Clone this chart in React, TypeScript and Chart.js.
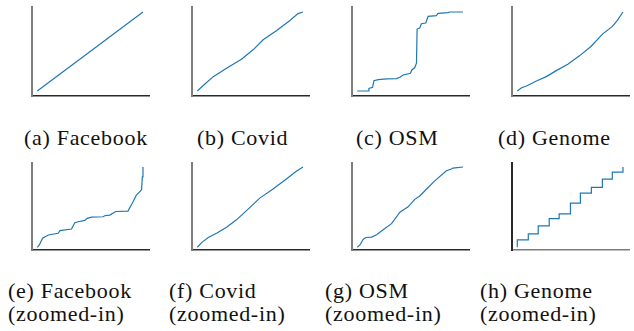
import React, { useEffect, useRef } from "react";
import { Chart, registerables } from "chart.js";

Chart.register(...registerables);

// ---- Data (normalized position vs. key) ----
const facebookX = [0, 0.5, 1];
const facebookY = [0, 0.5, 1];

const covidX = [0, 0.072, 0.151, 0.277, 0.418, 0.528, 0.623, 0.748, 0.874, 0.953, 1];
const covidY = [0, 0.089, 0.182, 0.288, 0.403, 0.521, 0.648, 0.763, 0.89, 0.979, 1];

const osmX = [0, 0.104, 0.11, 0.145, 0.157, 0.198, 0.277, 0.371, 0.403, 0.434, 0.503, 0.516, 0.544, 0.56, 0.566, 0.591, 0.607, 0.648, 0.67, 0.748, 0.764, 0.858, 0.874, 1];
const osmY = [0, 0, 0.034, 0.047, 0.131, 0.144, 0.153, 0.157, 0.174, 0.203, 0.225, 0.267, 0.297, 0.352, 0.784, 0.797, 0.852, 0.86, 0.945, 0.953, 0.983, 0.992, 1, 1];

const genomeX = [0, 0.041, 0.0875, 0.181, 0.275, 0.369, 0.478, 0.588, 0.697, 0.806, 0.9, 0.947, 1];
const genomeY = [0, 0.042, 0.064, 0.127, 0.182, 0.258, 0.339, 0.445, 0.564, 0.72, 0.818, 0.894, 1];

const facebookZoomX = [0, 0.019, 0.05, 0.088, 0.104, 0.198, 0.214, 0.324, 0.355, 0.387, 0.45, 0.472, 0.513, 0.623, 0.638, 0.686, 0.742, 0.858, 0.906, 0.937, 0.975, 0.987, 0.994, 1];
const facebookZoomY = [0, 0.029, 0.112, 0.14, 0.153, 0.174, 0.207, 0.227, 0.306, 0.318, 0.335, 0.36, 0.376, 0.38, 0.393, 0.401, 0.446, 0.45, 0.566, 0.649, 0.7, 0.719, 0.876, 1];

const covidZoomX = [0, 0.041, 0.104, 0.182, 0.277, 0.371, 0.481, 0.591, 0.717, 0.843, 0.937, 1];
const covidZoomY = [0, 0.058, 0.121, 0.175, 0.25, 0.342, 0.475, 0.6125, 0.725, 0.85, 0.946, 1];

const osmZoomX = [0, 0.025, 0.057, 0.082, 0.135, 0.182, 0.245, 0.324, 0.403, 0.481, 0.544, 0.591, 0.654, 0.733, 0.843, 0.89, 0.906, 1];
const osmZoomY = [0, 0.029, 0.101, 0.122, 0.126, 0.155, 0.218, 0.294, 0.437, 0.504, 0.597, 0.639, 0.723, 0.828, 0.954, 0.975, 0.987, 1];

const genomeZoomX = [0, 0.104, 0.198, 0.302, 0.396, 0.503, 0.597, 0.701, 0.805, 0.899, 1, 1];
const genomeZoomY = [0, 0.092, 0.167, 0.267, 0.358, 0.417, 0.55, 0.675, 0.746, 0.85, 0.9375, 1];

const captionsTop = ["(a) Facebook", "(b) Covid", "(c) OSM", "(d) Genome"];
const captionsBottom = ["(e) Facebook", "(f) Covid", "(g) OSM", "(h) Genome"];
const zoomedLabel = "(zoomed-in)";

// ---- Layout ----
const PAD = 3;
const LINE_COLOR = "#1f77b4";
const GRAY = "#7d7d7d";
const DARK = "#2a2a2a";

type PanelProps = {
  xs: number[];
  ys: number[];
  left: number;
  top: number;
  w: number;
  h: number;
  yMin: number;
  yMax: number;
  yAxisColor: string;
  xAxisColor: string;
  stepped?: boolean | "before" | "after";
};

function Panel(p: PanelProps) {
  const ref = useRef<HTMLCanvasElement>(null);
  useEffect(() => {
    const chart = new Chart(ref.current as HTMLCanvasElement, {
      type: "line",
      data: {
        datasets: [
          {
            data: p.xs.map((x, i) => ({ x, y: p.ys[i] })),
            borderColor: LINE_COLOR,
            borderWidth: 1.2,
            pointRadius: 0,
            tension: 0,
            stepped: p.stepped || false,
          },
        ],
      },
      options: {
        animation: false,
        responsive: false,
        maintainAspectRatio: false,
        events: [],
        layout: { padding: PAD },
        plugins: { legend: { display: false }, tooltip: { enabled: false } },
        scales: {
          x: {
            type: "linear",
            min: -0.05,
            max: 1.057,
            grid: { display: false, drawTicks: false },
            ticks: { display: false },
            border: { display: true, color: p.xAxisColor, width: 1.5 },
          },
          y: {
            type: "linear",
            min: p.yMin,
            max: p.yMax,
            grid: { display: false, drawTicks: false },
            ticks: { display: false },
            border: { display: true, color: p.yAxisColor, width: 2 },
          },
        },
      },
    } as any);
    return () => chart.destroy();
  }, []);
  const cw = p.w + 2 * PAD;
  const ch = p.h + 2 * PAD;
  return (
    <canvas
      ref={ref}
      width={cw}
      height={ch}
      style={{ position: "absolute", left: p.left - PAD, top: p.top - PAD, width: cw, height: ch }}
    />
  );
}

const captionStyle: React.CSSProperties = {
  position: "absolute",
  fontFamily: "'Liberation Serif', Tinos, Times, 'DejaVu Serif', serif",
  fontSize: 22,
  letterSpacing: "0.7px",
  lineHeight: "23px",
  color: "#111",
  whiteSpace: "nowrap",
};

export default function App() {
  useEffect(() => {
    document.body.style.margin = "0";
  }, []);
  const cols = [32, 192, 352, 512];
  const row1 = { top: 7, h: 89, yMin: -0.063, yMax: 1.063 };
  const row2 = { top: 163, h: 87, yMin: -0.034, yMax: 1.05 };
  const topData = [
    [facebookX, facebookY],
    [covidX, covidY],
    [osmX, osmY],
    [genomeX, genomeY],
  ];
  const bottomData = [
    [facebookZoomX, facebookZoomY],
    [covidZoomX, covidZoomY],
    [osmZoomX, osmZoomY],
    [genomeZoomX, genomeZoomY],
  ];
  const capTopLeft = [24, 197, 356, 498];
  const capBotLeft = [8, 169, 325, 480];
  return (
    <div style={{ position: "fixed", left: 0, top: 0, width: 634, height: 331, background: "#fff", overflow: "hidden" }}>
      {topData.map((d, i) => (
        <Panel
          key={"t" + i}
          xs={d[0]}
          ys={d[1]}
          left={cols[i]}
          top={row1.top}
          w={117}
          h={row1.h}
          yMin={row1.yMin}
          yMax={row1.yMax}
          yAxisColor={GRAY}
          xAxisColor={DARK}
        />
      ))}
      {bottomData.map((d, i) => (
        <Panel
          key={"b" + i}
          xs={d[0]}
          ys={d[1]}
          left={cols[i]}
          top={row2.top}
          w={117}
          h={row2.h}
          yMin={row2.yMin}
          yMax={row2.yMax}
          yAxisColor={i === 3 ? DARK : GRAY}
          xAxisColor={i === 3 ? GRAY : DARK}
          stepped={i === 3 ? "after" : false}
        />
      ))}
      {captionsTop.map((c, i) => (
        <div key={"ct" + i} style={{ ...captionStyle, left: capTopLeft[i], top: 126 }}>
          {c}
        </div>
      ))}
      {captionsBottom.map((c, i) => (
        <div key={"cb" + i} style={{ ...captionStyle, left: capBotLeft[i], top: 279 }}>
          {c}
          <br />
          {zoomedLabel}
        </div>
      ))}
    </div>
  );
}
